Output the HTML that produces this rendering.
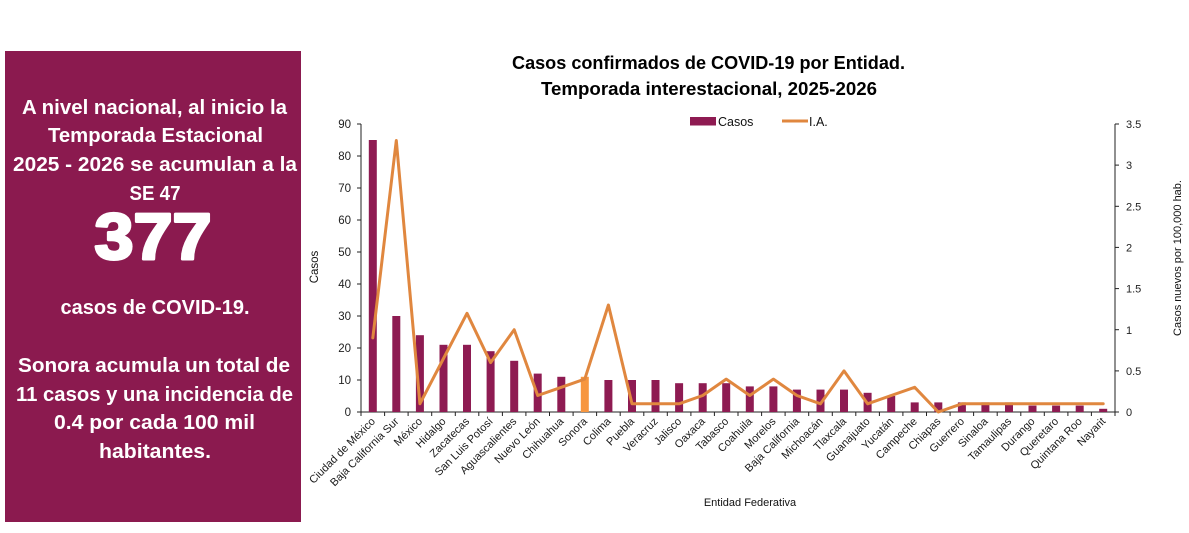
<!DOCTYPE html>
<html><head><meta charset="utf-8"><style>
html,body{margin:0;padding:0;background:#fff;}
svg{display:block;font-family:"Liberation Sans",sans-serif;}
</style></head><body>
<svg width="1189" height="533" viewBox="0 0 1189 533" xmlns="http://www.w3.org/2000/svg">
<rect x="0" y="0" width="1189" height="533" fill="#fff"/>
<!-- Left panel -->
<rect x="5" y="51" width="296" height="471" fill="#8B1A4F"/>
<g fill="#fff" font-weight="bold" font-size="20" text-anchor="middle">
<text x="154.5" y="114" textLength="265" lengthAdjust="spacingAndGlyphs">A nivel nacional, al inicio la</text>
<text x="155.5" y="142" textLength="215" lengthAdjust="spacingAndGlyphs">Temporada Estacional</text>
<text x="155" y="171" textLength="284" lengthAdjust="spacingAndGlyphs">2025 - 2026 se acumulan a la</text>
<text x="155" y="200" textLength="51" lengthAdjust="spacingAndGlyphs">SE 47</text>
<text x="153" y="259" font-size="65" stroke="#fff" stroke-width="3" stroke-linejoin="round" textLength="117" lengthAdjust="spacingAndGlyphs">377</text>
<text x="155" y="314" textLength="189" lengthAdjust="spacingAndGlyphs">casos de COVID-19.</text>
<text x="154" y="372" textLength="272" lengthAdjust="spacingAndGlyphs">Sonora acumula un total de</text>
<text x="154.5" y="401" textLength="277" lengthAdjust="spacingAndGlyphs">11 casos y una incidencia de</text>
<text x="154.5" y="429" textLength="201" lengthAdjust="spacingAndGlyphs">0.4 por cada 100 mil</text>
<text x="155" y="458" textLength="112" lengthAdjust="spacingAndGlyphs">habitantes.</text>
</g>
<!-- Title -->
<g fill="#000" font-weight="bold" font-size="18" text-anchor="middle">
<text x="708.5" y="69" textLength="393" lengthAdjust="spacingAndGlyphs">Casos confirmados de COVID-19 por Entidad.</text>
<text x="709" y="95" textLength="336" lengthAdjust="spacingAndGlyphs">Temporada interestacional, 2025-2026</text>
</g>
<!-- Legend -->
<rect x="690" y="117" width="26" height="8.5" fill="#8E1B52"/>
<text x="718" y="126" font-size="12.5" fill="#111">Casos</text>
<line x1="782" y1="121" x2="808" y2="121" stroke="#E0873F" stroke-width="3"/>
<text x="809" y="126" font-size="12.5" fill="#111">I.A.</text>
<!-- Axes -->
<g stroke="#222" stroke-width="1">
<line x1="361" y1="124" x2="361" y2="412"/>
<line x1="1115" y1="124" x2="1115" y2="412"/>
<line x1="361" y1="412" x2="1115" y2="412"/>
<!-- left ticks -->
<line x1="357" y1="412" x2="361" y2="412"/>
<line x1="357" y1="380" x2="361" y2="380"/>
<line x1="357" y1="348" x2="361" y2="348"/>
<line x1="357" y1="316" x2="361" y2="316"/>
<line x1="357" y1="284" x2="361" y2="284"/>
<line x1="357" y1="252" x2="361" y2="252"/>
<line x1="357" y1="220" x2="361" y2="220"/>
<line x1="357" y1="188" x2="361" y2="188"/>
<line x1="357" y1="156" x2="361" y2="156"/>
<line x1="357" y1="124" x2="361" y2="124"/>
<!-- right ticks -->
<line x1="1115" y1="412" x2="1119" y2="412"/>
<line x1="1115" y1="370.9" x2="1119" y2="370.9"/>
<line x1="1115" y1="329.7" x2="1119" y2="329.7"/>
<line x1="1115" y1="288.6" x2="1119" y2="288.6"/>
<line x1="1115" y1="247.4" x2="1119" y2="247.4"/>
<line x1="1115" y1="206.3" x2="1119" y2="206.3"/>
<line x1="1115" y1="165.1" x2="1119" y2="165.1"/>
<line x1="1115" y1="124" x2="1119" y2="124"/>
<!-- x ticks -->
<path d="M361 412v4M384.6 412v4M408.1 412v4M431.7 412v4M455.3 412v4M478.8 412v4M502.4 412v4M525.9 412v4M549.5 412v4M573.1 412v4M596.6 412v4M620.2 412v4M643.8 412v4M667.3 412v4M690.9 412v4M714.4 412v4M738 412v4M761.6 412v4M785.1 412v4M808.7 412v4M832.3 412v4M855.8 412v4M879.4 412v4M902.9 412v4M926.5 412v4M950.1 412v4M973.6 412v4M997.2 412v4M1020.8 412v4M1044.3 412v4M1067.9 412v4M1091.4 412v4M1115 412v4" fill="none"/>
</g>
<!-- Left tick labels -->
<g font-size="11.5" fill="#222" text-anchor="end">
<text x="351" y="416">0</text>
<text x="351" y="384">10</text>
<text x="351" y="352">20</text>
<text x="351" y="320">30</text>
<text x="351" y="288">40</text>
<text x="351" y="256">50</text>
<text x="351" y="224">60</text>
<text x="351" y="192">70</text>
<text x="351" y="160">80</text>
<text x="351" y="128">90</text>
</g>
<!-- Right tick labels -->
<g font-size="11" fill="#222">
<text x="1126" y="416">0</text>
<text x="1126" y="375">0.5</text>
<text x="1126" y="334">1</text>
<text x="1126" y="292.6">1.5</text>
<text x="1126" y="251.4">2</text>
<text x="1126" y="210.3">2.5</text>
<text x="1126" y="169.1">3</text>
<text x="1126" y="128">3.5</text>
</g>
<!-- Axis titles -->
<text transform="translate(318,267) rotate(-90)" font-size="11.5" fill="#111" text-anchor="middle">Casos</text>
<text transform="translate(1181,258) rotate(-90)" font-size="11" fill="#111" text-anchor="middle">Casos nuevos por 100,000 hab.</text>
<text x="750" y="506" font-size="11" fill="#111" text-anchor="middle">Entidad Federativa</text>
<!-- Bars -->
<g fill="#8E1B52">
<rect x="368.8" y="140" width="8" height="272"/>
<rect x="392.3" y="316" width="8" height="96"/>
<rect x="415.9" y="335.2" width="8" height="76.8"/>
<rect x="439.5" y="344.8" width="8" height="67.2"/>
<rect x="463" y="344.8" width="8" height="67.2"/>
<rect x="486.6" y="351.2" width="8" height="60.8"/>
<rect x="510.2" y="360.8" width="8" height="51.2"/>
<rect x="533.7" y="373.6" width="8" height="38.4"/>
<rect x="557.3" y="376.8" width="8" height="35.2"/>
<rect x="604.4" y="380" width="8" height="32"/>
<rect x="628" y="380" width="8" height="32"/>
<rect x="651.5" y="380" width="8" height="32"/>
<rect x="675.1" y="383.2" width="8" height="28.8"/>
<rect x="698.7" y="383.2" width="8" height="28.8"/>
<rect x="722.2" y="383.2" width="8" height="28.8"/>
<rect x="745.8" y="386.4" width="8" height="25.6"/>
<rect x="769.4" y="386.4" width="8" height="25.6"/>
<rect x="792.9" y="389.6" width="8" height="22.4"/>
<rect x="816.5" y="389.6" width="8" height="22.4"/>
<rect x="840" y="389.6" width="8" height="22.4"/>
<rect x="863.6" y="392.8" width="8" height="19.2"/>
<rect x="887.2" y="396" width="8" height="16"/>
<rect x="910.7" y="402.4" width="8" height="9.6"/>
<rect x="934.3" y="402.4" width="8" height="9.6"/>
<rect x="957.9" y="402.4" width="8" height="9.6"/>
<rect x="981.4" y="402.4" width="8" height="9.6"/>
<rect x="1005" y="402.4" width="8" height="9.6"/>
<rect x="1028.5" y="405.6" width="8" height="6.4"/>
<rect x="1052.1" y="405.6" width="8" height="6.4"/>
<rect x="1075.7" y="405.6" width="8" height="6.4"/>
<rect x="1099.2" y="408.8" width="8" height="3.2"/>
</g>
<rect x="580.8" y="376.8" width="8" height="35.2" fill="#F7963F"/>
<!-- I.A. line -->
<polyline fill="none" stroke="#E0873F" stroke-width="3" stroke-linejoin="round" stroke-linecap="round" points="372.8,337.9 396.3,140.5 419.9,403.8 443.5,358.5 467,313.3 490.6,362.6 514.2,329.7 537.7,395.5 561.3,387.3 584.8,379.1 608.4,305 632,403.8 655.5,403.8 679.1,403.8 702.7,395.5 726.2,379.1 749.8,395.5 773.4,379.1 796.9,395.5 820.5,403.8 844,370.9 867.6,403.8 891.2,395.5 914.7,387.3 938.3,412 961.9,403.8 985.4,403.8 1009,403.8 1032.5,403.8 1056.1,403.8 1079.7,403.8 1103.2,403.8"/>
<!-- X labels -->
<g font-size="11" fill="#1a1a1a" text-anchor="end">
<text transform="translate(375.8,422) rotate(-45)">Ciudad de México</text>
<text transform="translate(399.3,422) rotate(-45)">Baja California Sur</text>
<text transform="translate(422.9,422) rotate(-45)">México</text>
<text transform="translate(446.5,422) rotate(-45)">Hidalgo</text>
<text transform="translate(470,422) rotate(-45)">Zacatecas</text>
<text transform="translate(493.6,422) rotate(-45)">San Luis Potosí</text>
<text transform="translate(517.2,422) rotate(-45)">Aguascalientes</text>
<text transform="translate(540.7,422) rotate(-45)">Nuevo León</text>
<text transform="translate(564.3,422) rotate(-45)">Chihuahua</text>
<text transform="translate(587.8,422) rotate(-45)">Sonora</text>
<text transform="translate(611.4,422) rotate(-45)">Colima</text>
<text transform="translate(635,422) rotate(-45)">Puebla</text>
<text transform="translate(658.5,422) rotate(-45)">Veracruz</text>
<text transform="translate(682.1,422) rotate(-45)">Jalisco</text>
<text transform="translate(705.7,422) rotate(-45)">Oaxaca</text>
<text transform="translate(729.2,422) rotate(-45)">Tabasco</text>
<text transform="translate(752.8,422) rotate(-45)">Coahuila</text>
<text transform="translate(776.4,422) rotate(-45)">Morelos</text>
<text transform="translate(799.9,422) rotate(-45)">Baja California</text>
<text transform="translate(823.5,422) rotate(-45)">Michoacán</text>
<text transform="translate(847,422) rotate(-45)">Tlaxcala</text>
<text transform="translate(870.6,422) rotate(-45)">Guanajuato</text>
<text transform="translate(894.2,422) rotate(-45)">Yucatán</text>
<text transform="translate(917.7,422) rotate(-45)">Campeche</text>
<text transform="translate(941.3,422) rotate(-45)">Chiapas</text>
<text transform="translate(964.9,422) rotate(-45)">Guerrero</text>
<text transform="translate(988.4,422) rotate(-45)">Sinaloa</text>
<text transform="translate(1012,422) rotate(-45)">Tamaulipas</text>
<text transform="translate(1035.5,422) rotate(-45)">Durango</text>
<text transform="translate(1059.1,422) rotate(-45)">Queretaro</text>
<text transform="translate(1082.7,422) rotate(-45)">Quintana Roo</text>
<text transform="translate(1106.2,422) rotate(-45)">Nayarit</text>
</g>
</svg>
</body></html>
